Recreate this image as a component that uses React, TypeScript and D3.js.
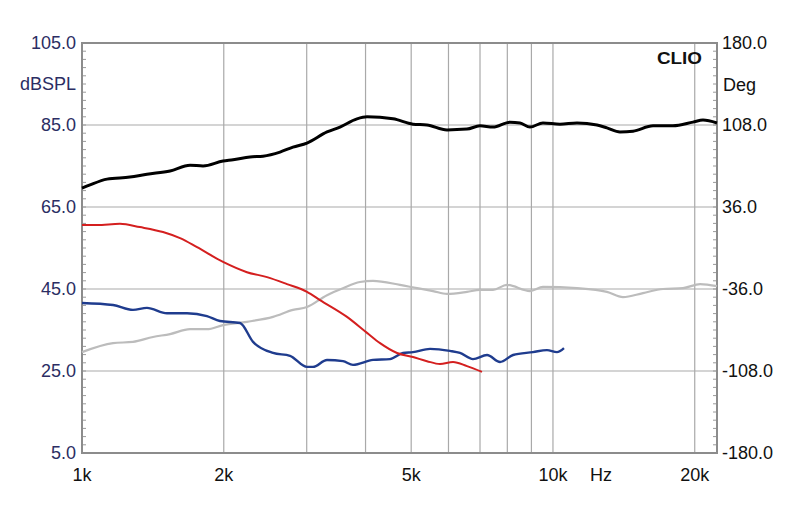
import React from "react";
import * as d3 from "d3";

const blackFreq = [1000, 1040, 1130, 1264, 1374, 1538, 1696, 1807, 1993, 2093, 2274, 2423, 2633, 2805, 3004, 3313, 3530, 3836, 4029, 4575, 5044, 5401, 5957, 6568, 6998, 7459, 8105, 8510, 8938, 9524, 10349, 11246, 12404, 13021, 13878, 14790, 16310, 17983, 19828, 20825, 22300];
const blackDb = [69.6, 70.4, 71.8, 72.3, 73.0, 73.8, 75.2, 75.0, 76.2, 76.5, 77.2, 77.4, 78.4, 79.6, 80.6, 83.3, 84.5, 86.5, 87.0, 86.5, 85.2, 85.0, 83.8, 84.0, 84.8, 84.5, 85.7, 85.5, 84.5, 85.5, 85.2, 85.5, 85.0, 84.3, 83.3, 83.5, 84.8, 84.8, 85.7, 86.2, 85.5];

const redFreq = [1000, 1076, 1204, 1327, 1486, 1615, 1755, 1993, 2240, 2471, 2724, 3004, 3201, 3653, 4029, 4294, 4665, 5044, 5401, 5756, 6135, 6568, 7069];
const redDb = [60.6, 60.6, 60.9, 60.1, 58.9, 57.4, 55.2, 51.6, 49.1, 47.9, 46.2, 44.3, 42.3, 38.2, 34.3, 31.8, 29.4, 28.4, 27.4, 26.7, 27.2, 26.2, 24.8];

const blueFreq = [1000, 1164, 1283, 1374, 1515, 1671, 1842, 1963, 2165, 2308, 2545, 2765, 3004, 3093, 3313, 3582, 3762, 4148, 4507, 4804, 5044, 5483, 6044, 6347, 6764, 7244, 7720, 8228, 9069, 9712, 10196, 10554];
const blueDb = [41.6, 41.1, 39.9, 40.4, 39.1, 39.1, 38.4, 37.2, 36.7, 32.1, 29.4, 28.7, 26.0, 26.0, 27.7, 27.4, 26.5, 27.7, 27.9, 29.4, 29.6, 30.4, 29.9, 29.4, 27.9, 28.9, 27.2, 28.9, 29.6, 30.1, 29.6, 30.6];

const grayFreq = [1000, 1164, 1283, 1415, 1538, 1696, 1842, 1993, 2240, 2545, 2805, 3004, 3313, 3582, 3892, 4148, 4734, 5145, 5562, 5957, 6568, 6998, 7459, 7985, 8938, 9524, 11246, 13021, 14081, 15529, 17122, 18880, 20530, 22300];
const grayDb = [29.6, 31.8, 32.1, 33.3, 34.0, 35.2, 35.2, 36.2, 37.0, 38.2, 39.9, 40.6, 43.5, 45.2, 46.7, 47.0, 46.0, 45.2, 44.5, 43.8, 44.3, 44.8, 44.8, 46.0, 44.5, 45.5, 45.2, 44.3, 43.0, 44.0, 45.0, 45.2, 46.2, 45.7];

const leftTicks = [105, 85, 65, 45, 25, 5];
const rightTicks = [180, 108, 36, -36, -108, -180];
const gridFreqs = [2000, 3000, 4000, 5000, 6000, 7000, 8000, 9000, 10000, 20000];
const freqLabels = [
  { f: 1000, t: "1k" },
  { f: 2000, t: "2k" },
  { f: 5000, t: "5k" },
  { f: 10000, t: "10k" },
  { f: 20000, t: "20k" },
];

const L = 82, R = 717, T = 43, B = 453;

export default function App() {
  const x = d3.scaleLog().domain([1000, 22300]).range([L, R]);
  const y = d3.scaleLinear().domain([5, 105]).range([B, T]);
  const y2 = d3.scaleLinear().domain([-180, 180]).range([B, T]);
  const line = d3
    .line<[number, number]>()
    .x((d) => x(d[0]))
    .y((d) => y(d[1]))
    .curve(d3.curveMonotoneX);
  const mk = (fs: number[], ds: number[]) => line(fs.map((f, i) => [f, ds[i]]) as [number, number][]) || "";
  const minorL = d3.range(5, 105.01, 2);
  const minorR = d3.range(-180, 180.01, 7.2);
  const font = "'Liberation Sans', Arial, sans-serif";
  return (
    <svg width={800} height={512} style={{ position: "absolute", left: 0, top: 0, background: "#fff" }} fontFamily={font}>
      <rect x={0} y={0} width={800} height={512} fill="#fff" />
      {gridFreqs.map((f) => (
        <line key={f} x1={x(f)} x2={x(f)} y1={T} y2={B} stroke="#a9a9a9" strokeWidth={1.2} />
      ))}
      {leftTicks.slice(1, -1).map((v) => (
        <line key={v} x1={L} x2={R} y1={y(v)} y2={y(v)} stroke="#a9a9a9" strokeWidth={1.2} />
      ))}
      {minorL.map((v) => (
        <line key={"l" + v} x1={L} x2={L + 4} y1={y(v)} y2={y(v)} stroke="#9a9a9a" strokeWidth={1} />
      ))}
      {minorR.map((v) => (
        <line key={"r" + v} x1={R - 4} x2={R} y1={y2(v)} y2={y2(v)} stroke="#9a9a9a" strokeWidth={1} />
      ))}
      <rect x={L} y={T} width={R - L} height={B - T} fill="none" stroke="#8c8c8c" strokeWidth={2} />
      <path d={mk(grayFreq, grayDb)} fill="none" stroke="#bcbcbc" strokeWidth={2.2} />
      <path d={mk(blueFreq, blueDb)} fill="none" stroke="#1f3c8e" strokeWidth={2.4} />
      <path d={mk(redFreq, redDb)} fill="none" stroke="#d41f1f" strokeWidth={2} />
      <path d={mk(blackFreq, blackDb)} fill="none" stroke="#000" strokeWidth={3} />
      {leftTicks.map((v) => (
        <text key={v} x={76} y={y(v)} dy="0.36em" textAnchor="end" fontSize={18} fill="#2b2d63">
          {v.toFixed(1)}
        </text>
      ))}
      <text x={76} y={84} dy="0.36em" textAnchor="end" fontSize={18} fill="#2b2d63">dBSPL</text>
      {rightTicks.map((v) => (
        <text key={v} x={722} y={y2(v)} dy="0.36em" textAnchor="start" fontSize={18} fill="#111">
          {v.toFixed(1)}
        </text>
      ))}
      <text x={723} y={85} dy="0.36em" textAnchor="start" fontSize={18} fill="#111">Deg</text>
      {freqLabels.map((d) => (
        <text key={d.t} x={x(d.f)} y={475} dy="0.36em" textAnchor="middle" fontSize={18} fill="#111">
          {d.t}
        </text>
      ))}
      <text x={601} y={475} dy="0.36em" textAnchor="middle" fontSize={18} fill="#111">Hz</text>
      <text x={657} y={58} dy="0.36em" textAnchor="start" fontSize={16} fontWeight="bold" fill="#111" textLength={45} lengthAdjust="spacingAndGlyphs">CLIO</text>
    </svg>
  );
}
